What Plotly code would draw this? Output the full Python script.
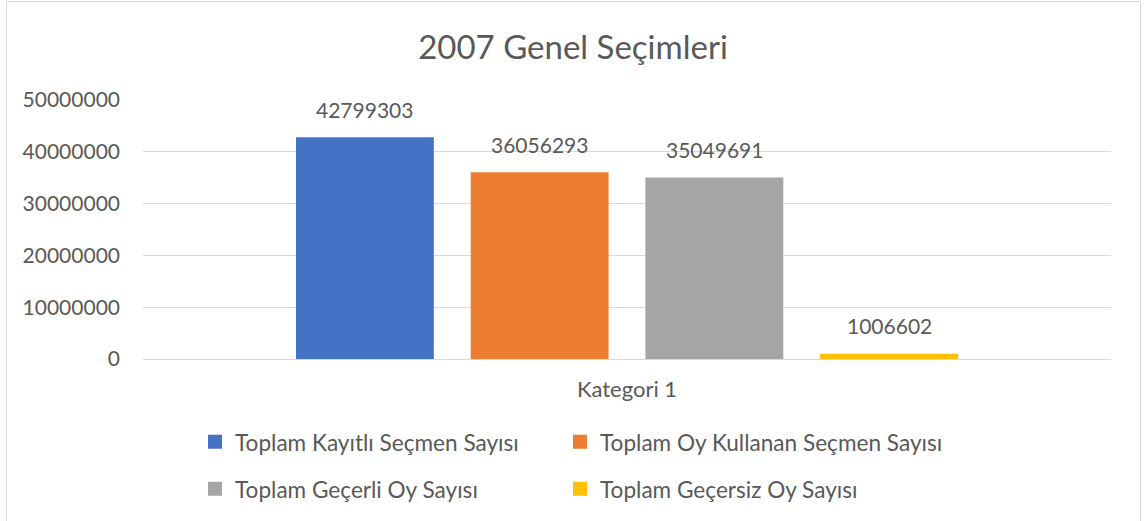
import plotly.graph_objects as go

categories = ["Kategori 1"]
series_names = [
    "Toplam Kayıtlı Seçmen Sayısı",
    "Toplam Oy Kullanan Seçmen Sayısı",
    "Toplam Geçerli Oy Sayısı",
    "Toplam Geçersiz Oy Sayısı",
]
series_values = [42799303, 36056293, 35049691, 1006602]
series_colors = ["#4472C4", "#ED7D31", "#A5A5A5", "#FFC000"]
y_ticks = [0, 10000000, 20000000, 30000000, 40000000, 50000000]
title_text = "2007 Genel Seçimleri"

W, H = 1146, 521
ML, MR, MT, MB = 143, 35, 100, 162
PW = W - ML - MR
PH = H - MT - MB
BARGAP = 0.278
GROUPGAP = 0.211
TXT = "#595959"
FONT = "Lato"

# legend grid: 2 columns x 2 rows
LEG_X = [195, 560]
LEG_Y = [442, 489]
legend_ids = ["legend", "legend2", "legend3", "legend4"]

fig = go.Figure()
for i, (name, val, col) in enumerate(zip(series_names, series_values, series_colors)):
    fig.add_trace(go.Bar(
        x=categories, y=[val], name=name, marker_color=col,
        marker_line_width=0, showlegend=False, legendgroup=name,
    ))
    fig.add_trace(go.Scatter(
        x=[None], y=[None], mode="markers", name=name, legendgroup=name,
        marker=dict(symbol="square", size=14, color=col),
        legend=legend_ids[i], showlegend=True,
    ))

slot = (1 - BARGAP) * PW / len(series_values)
n = len(series_values)
for i, val in enumerate(series_values):
    fig.add_annotation(
        x=categories[0], y=val, text=str(val), showarrow=False,
        xshift=(i - (n - 1) / 2) * slot, yshift=28, yanchor="middle",
        font=dict(family=FONT, size=21, color=TXT),
    )

fig.add_shape(type="rect", xref="paper", yref="paper",
              x0=(6.5 - ML) / PW, x1=(1140.5 - ML) / PW,
              y0=-(H + 4 - (MT + PH)) / PH, y1=(MT + PH - 1.5) / PH,
              line=dict(color="#D9D9D9", width=1), layer="below")

legends = {}
for k, lid in enumerate(legend_ids):
    legends[lid] = dict(
        orientation="v", xref="container", yref="container",
        x=LEG_X[k % 2] / W, y=1 - LEG_Y[k // 2] / H,
        xanchor="left", yanchor="middle", itemsizing="trace",
        font=dict(family=FONT, size=22.6, color=TXT),
        bgcolor="rgba(0,0,0,0)",
    )

fig.update_layout(
    width=W, height=H,
    margin=dict(l=ML, r=MR, t=MT, b=MB, autoexpand=False),
    paper_bgcolor="white", plot_bgcolor="white",
    barmode="group", bargap=BARGAP, bargroupgap=GROUPGAP,
    font=dict(family=FONT, size=21, color=TXT),
    title=dict(text=title_text, x=0.5, xanchor="center", xref="container",
               y=1 - 47 / H, yanchor="middle", yref="container",
               font=dict(family=FONT, size=33, color=TXT)),
    xaxis=dict(showline=True, linecolor="#D9D9D9", linewidth=1,
               showgrid=False, ticks="", ticklabelstandoff=11,
               tickfont=dict(family=FONT, size=22, color=TXT)),
    yaxis=dict(range=[0, 50000000], tickvals=y_ticks,
               ticktext=[str(v) for v in y_ticks],
               showgrid=True, gridcolor="#D9D9D9", gridwidth=1,
               zeroline=False, showline=False, ticks="",
               ticklabelstandoff=22,
               tickfont=dict(family=FONT, size=21, color=TXT)),
    **legends,
)

fig.write_html("out.html", config={"displayModeBar": False},
               post_script="document.body.style.margin='0';document.body.style.padding='0';")
